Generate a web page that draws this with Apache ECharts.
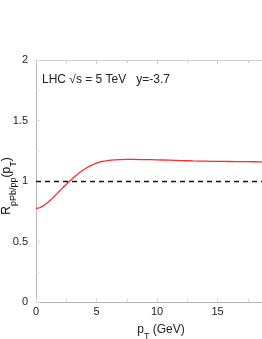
<!DOCTYPE html>
<html><head><meta charset="utf-8">
<script src="https://cdn.jsdelivr.net/npm/echarts@6/dist/echarts.min.js"></script>
<style>html,body{margin:0;padding:0;background:#fff}#c{width:262px;height:339px}</style>
</head><body><div id="c"></div>
<script>
const ptValues = [0, 0.3, 0.6, 0.9, 1.2, 1.5, 1.8, 2.1, 2.4, 2.7, 3.0, 3.4, 3.8, 4.2, 4.6, 5.0, 5.5, 6.0, 6.5, 7.0, 7.5, 8.0, 9.0, 10.0, 11.0, 12.0, 13.0, 14.0, 15.0, 16.0, 17.0, 18.0, 19.0, 20.0];
const rValues  = [0.774, 0.779, 0.795, 0.817, 0.843, 0.872, 0.902, 0.933, 0.963, 0.992, 1.019, 1.053, 1.084, 1.110, 1.131, 1.148, 1.162, 1.170, 1.175, 1.177, 1.178, 1.178, 1.177, 1.175, 1.172, 1.169, 1.166, 1.164, 1.162, 1.161, 1.160, 1.159, 1.158, 1.157];
const refLevel = 1;
const annotation = 'LHC \u221As = 5 TeV   y=-3.7';
const xTitle = ['p', 'T', ' (GeV)'];
const yTitle = ['R', 'pPb/pp', '(p', 'T', ')'];

const F = 'Liberation Sans, Arial, Helvetica, sans-serif';
const chart = echarts.init(document.getElementById('c'), null, {renderer: 'canvas'});
const axisGray = '#b4b4b4';
const base = {fontFamily: F, fontSize: 12, color: '#222'};
const sub = {fontFamily: F, fontSize: 9, color: '#222', verticalAlign: 'bottom', padding: [0,0,-5,0]};
chart.setOption({
  animation: false,
  grid: {left: 36, top: 60, right: -16, bottom: 37, show: false, containLabel: false, outerBoundsMode: 'none'},
  graphic: [
    {type: 'text', left: 42, top: 74, style: {text: annotation, font: '12px ' + F, fill: '#222'}},
    {type: 'text', x: 7, y: 186, rotation: Math.PI / 2, style: {
      text: '{b|' + yTitle[0] + '}{s|' + yTitle[1] + '}{b|' + yTitle[2] + '}{s|' + yTitle[3] + '}{b|' + yTitle[4] + '}',
      rich: {b: base, s: sub}, align: 'center', verticalAlign: 'middle'}}
  ],
  xAxis: [{
    type: 'value', min: 0, max: 20, interval: 5,
    name: '{b|' + xTitle[0] + '}{s|' + xTitle[1] + '}{b|' + xTitle[2] + '}',
    nameLocation: 'middle', nameGap: 22, nameMoveOverlap: false,
    nameTextStyle: {rich: {b: base, s: sub}, padding: [0, 0, 0, 8]},
    axisLine: {lineStyle: {color: axisGray, width: 1}},
    axisTick: {inside: true, length: 4, lineStyle: {color: '#ddd'}},
    minorTick: {show: true, splitNumber: 2, length: 3, lineStyle: {color: '#ddd'}},
    axisLabel: {fontFamily: F, fontSize: 11, color: '#222', margin: 4, showMaxLabel: false},
    splitLine: {show: false}
  }, {
    type: 'value', position: 'top', min: 0, max: 20, interval: 5,
    axisLine: {lineStyle: {color: '#d0d0d0', width: 1}},
    axisTick: {inside: true, length: 4, lineStyle: {color: '#ccc'}},
    minorTick: {show: true, splitNumber: 2, length: 3, lineStyle: {color: '#ccc'}},
    axisLabel: {show: false}, splitLine: {show: false}
  }],
  yAxis: {
    type: 'value', min: 0, max: 2, interval: 0.5,
    axisLine: {show: true, lineStyle: {color: axisGray, width: 1}},
    axisTick: {show: true, inside: true, length: 4, lineStyle: {color: '#ddd'}},
    minorTick: {show: true, splitNumber: 2, length: 3, lineStyle: {color: '#ddd'}},
    axisLabel: {fontFamily: F, fontSize: 11, color: '#222', margin: 8, formatter: v => String(v)},
    splitLine: {show: false}
  },
  series: [{
    type: 'line', data: ptValues.map((x, i) => [x, rValues[i]]),
    smooth: 0.4, showSymbol: false, symbol: 'none',
    lineStyle: {color: '#ff2a2a', width: 1.3},
    markLine: {silent: true, symbol: 'none', label: {show: false},
      lineStyle: {color: '#111', type: [5, 4], width: 1.3},
      data: [{yAxis: refLevel}]}
  }]
});
</script></body></html>
